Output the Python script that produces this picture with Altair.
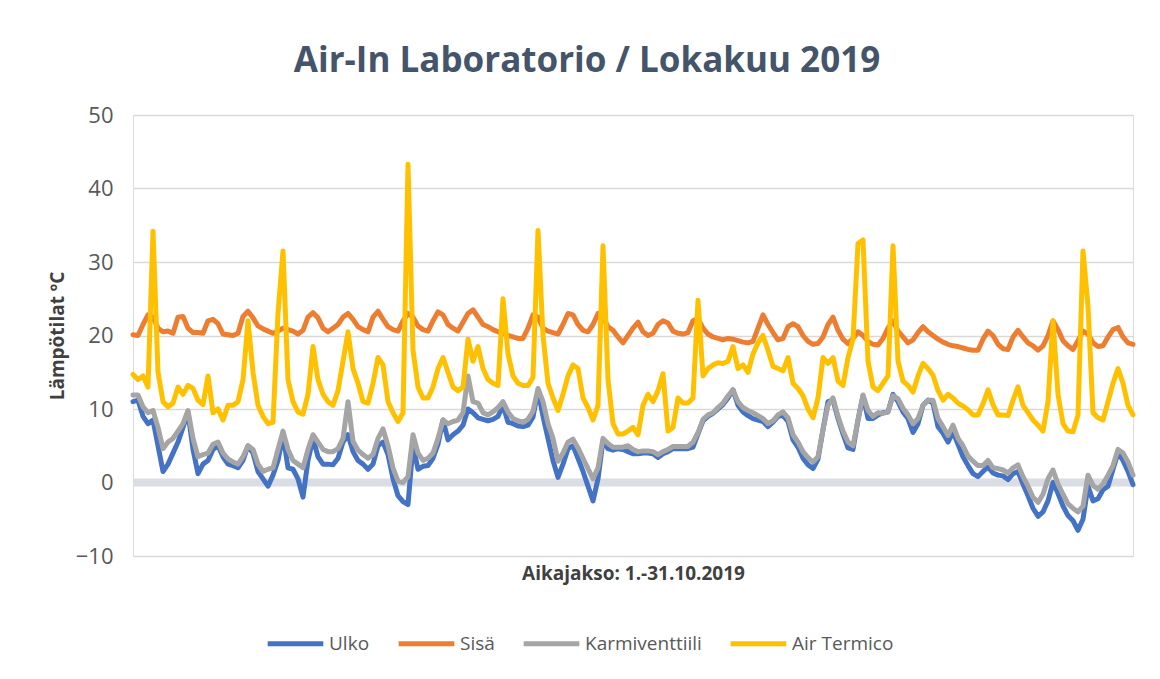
import altair as alt
import pandas as pd

# Series values, sampled every 1/200 of the month (index 0..200 covers 1.-31.10.2019)
ulko = [11.0, 11.2, 9.0, 8.0, 8.5, 5.0, 1.5, 2.5, 4.0, 5.5, 7.5, 9.5, 4.5, 1.2, 2.5, 3.0, 4.5, 5.0, 3.5, 2.5,
        2.3, 2.0, 3.0, 5.0, 4.0, 1.5, 0.5, -0.5, 1.0, 3.0, 6.5, 2.0, 1.8, 0.5, -2.0, 3.0, 6.0, 3.5, 2.5, 2.5,
        2.4, 3.3, 5.5, 6.5, 4.2, 3.0, 2.5, 1.8, 2.5, 5.0, 5.5, 3.8, 0.5, -1.8, -2.6, -3.0, 5.0, 1.8, 2.2, 2.3,
        3.3, 5.2, 8.5, 5.8, 6.5, 7.0, 7.8, 10.0, 9.5, 8.8, 8.6, 8.4, 8.6, 9.0, 10.5, 8.2, 8.0, 7.7, 7.6, 7.8,
        8.9, 12.5, 9.0, 6.0, 3.0, 0.7, 2.5, 4.6, 5.0, 3.3, 1.5, -0.5, -2.5, 0.5, 5.7, 4.6, 4.4, 4.6, 4.5, 4.2,
        3.9, 3.9, 4.0, 4.0, 3.9, 3.4, 3.9, 4.2, 4.6, 4.6, 4.6, 4.6, 4.8, 6.6, 8.4, 9.0, 9.4, 10.0, 10.6, 11.5,
        12.6, 10.5, 9.6, 9.1, 8.7, 8.5, 8.3, 7.6, 8.2, 9.0, 9.1, 8.3, 5.8, 4.8, 3.3, 2.4, 1.9, 3.2, 7.2, 11.0,
        11.2, 8.7, 6.6, 4.7, 4.5, 8.5, 11.8, 8.7, 8.7, 9.2, 9.5, 9.6, 12.0, 11.0, 9.6, 8.7, 6.8, 8.0, 10.5, 11.2,
        10.8, 7.6, 6.7, 5.5, 6.9, 5.2, 3.5, 2.3, 1.2, 0.8, 1.5, 2.1, 1.3, 1.0, 0.9, 0.4, 1.2, 1.5, -0.2, -1.8,
        -3.5, -4.6, -4.0, -2.5, 0.0, -1.5, -3.2, -4.5, -5.2, -6.5, -5.0, -0.5, -2.5, -2.2, -1.0, -0.5, 1.8, 4.0, 3.0, 1.5,
        -0.3]

sisa = [20.1, 20.0, 21.5, 22.8, 22.5, 21.0, 20.5, 20.6, 20.3, 22.5, 22.6, 21.0, 20.4, 20.4, 20.3, 22.0, 22.2, 21.6, 20.2, 20.1,
        20.0, 20.3, 22.6, 23.3, 22.4, 21.3, 20.9, 20.6, 20.3, 20.6, 21.0, 20.8, 20.6, 20.2, 20.7, 22.5, 23.1, 22.4, 21.0, 20.5,
        21.0, 21.5, 22.5, 23.0, 22.2, 21.2, 20.8, 20.5, 22.5, 23.3, 22.2, 21.2, 20.8, 20.6, 22.0, 23.0, 22.5, 21.3, 20.8, 20.6,
        22.0, 23.2, 22.8, 21.5, 21.0, 20.6, 21.8, 23.0, 23.5, 22.5, 21.5, 21.2, 20.8, 20.5, 20.3, 20.0, 19.8, 19.6, 19.6, 21.0,
        22.8, 22.5, 21.0, 20.6, 20.4, 20.2, 21.5, 23.0, 22.8, 21.5, 20.7, 20.5, 21.5, 23.0, 22.5, 21.2, 20.7, 19.8, 19.0, 20.0,
        21.0, 21.8, 20.5, 20.0, 20.3, 21.5, 22.0, 21.7, 20.6, 20.3, 20.2, 20.4, 22.0, 22.3, 21.0, 20.2, 19.8, 19.6, 19.4, 19.6,
        19.5, 19.3, 19.1, 19.0, 19.2, 21.0, 22.8, 21.5, 20.4, 19.4, 19.6, 21.2, 21.6, 21.2, 20.0, 19.2, 18.8, 18.9, 19.8, 21.5,
        22.5, 20.7, 19.5, 18.9, 19.6, 20.5, 20.0, 19.2, 18.8, 18.7, 19.6, 21.0, 22.0, 20.6, 19.8, 19.0, 19.4, 20.4, 21.2, 20.5,
        20.0, 19.5, 19.1, 18.8, 18.6, 18.5, 18.3, 18.1, 18.0, 18.0, 19.5, 20.6, 20.0, 18.8, 18.2, 18.1, 19.8, 20.7, 19.8, 19.0,
        18.6, 18.0, 18.6, 20.0, 22.0, 20.8, 19.3, 18.6, 18.1, 19.3, 20.6, 20.2, 19.0, 18.5, 18.6, 19.8, 20.8, 21.1, 19.8, 19.0,
        18.8]

karmi = [11.9, 11.9, 10.3, 9.5, 9.8, 7.5, 4.6, 5.5, 6.0, 7.0, 8.0, 9.8, 6.0, 3.5, 3.8, 4.0, 5.2, 5.5, 4.0, 3.2,
         2.8, 2.5, 3.5, 5.0, 4.5, 2.5, 1.5, 1.8, 2.0, 4.5, 7.0, 4.5, 3.0, 2.5, 2.0, 4.5, 6.5, 5.5, 4.5, 4.2,
         4.2, 4.6, 6.0, 11.0, 5.6, 4.4, 3.8, 3.3, 3.8, 6.0, 7.3, 5.0, 2.0, 0.2, 0.0, 0.8, 6.5, 4.0, 3.0, 3.3,
         4.0, 6.0, 8.5, 8.0, 8.3, 8.5, 9.5, 14.5, 11.0, 10.8, 9.5, 9.2, 9.6, 10.2, 11.0, 9.6, 8.7, 8.4, 8.2, 8.6,
         9.7, 12.8, 11.0, 8.0, 6.0, 2.9, 4.0, 5.5, 5.9, 4.7, 3.3, 1.9, 0.5, 2.0, 6.0, 5.3, 4.8, 4.8, 4.8, 5.0,
         4.5, 4.2, 4.3, 4.3, 4.2, 3.8, 4.2, 4.5, 4.9, 4.9, 4.9, 4.9, 5.5, 6.8, 8.6, 9.2, 9.5, 10.2, 10.8, 11.8,
         12.6, 11.0, 10.2, 9.8, 9.5, 9.1, 8.7, 8.0, 8.4, 9.2, 9.6, 8.8, 6.5, 5.5, 4.2, 3.4, 2.8, 3.5, 7.2, 10.5,
         11.5, 9.0, 7.0, 5.5, 5.0, 8.5, 11.9, 9.8, 9.0, 9.5, 9.4, 9.6, 11.8, 11.4, 10.1, 9.2, 8.0, 8.7, 10.5, 11.2,
         11.2, 8.7, 7.6, 6.4, 7.8, 6.0, 5.0, 3.6, 2.9, 2.3, 2.3, 3.0, 2.0, 1.9, 1.7, 1.3, 2.0, 2.4, 0.8, -0.5,
         -2.0, -2.7, -1.6, 0.5, 1.7, -0.2, -1.6, -2.9, -3.5, -4.0, -3.2, 1.0, -0.4, -0.9, -0.2, 1.0, 2.3, 4.5, 4.0, 2.8,
         1.0]

air = [14.7, 14.0, 14.5, 13.0, 34.2, 15.0, 11.0, 10.3, 10.8, 13.0, 12.0, 13.2, 12.8, 11.2, 10.6, 14.5, 9.5, 10.0, 8.5, 10.5,
       10.5, 11.0, 14.0, 22.0, 15.0, 10.5, 9.0, 8.0, 8.2, 23.0, 31.5, 14.0, 11.0, 9.6, 9.3, 12.0, 18.5, 14.0, 12.0, 11.0,
       10.5, 12.5, 16.5, 20.5, 15.5, 13.5, 11.0, 10.8, 13.5, 17.0, 16.0, 11.0, 9.5, 8.3, 9.5, 43.3, 18.0, 13.0, 11.5, 11.5,
       13.0, 15.5, 17.0, 15.0, 13.0, 12.5, 13.0, 19.5, 16.5, 18.5, 15.5, 14.0, 13.5, 13.2, 25.0, 17.5, 14.5, 13.5, 13.2, 13.2,
       14.3, 34.3, 20.0, 13.5, 11.5, 9.8, 12.0, 14.5, 16.0, 15.5, 11.5, 10.2, 8.5, 10.5, 32.2, 14.0, 8.0, 6.6, 6.6, 7.0,
       7.5, 6.5, 10.5, 12.0, 11.0, 12.5, 14.8, 7.0, 7.5, 11.5, 10.8, 10.8, 11.5, 24.8, 14.5, 15.5, 16.0, 16.3, 16.2, 16.5,
       18.5, 15.5, 16.0, 15.0, 17.5, 19.0, 20.0, 18.0, 15.8, 15.5, 15.2, 17.0, 13.5, 12.8, 11.8, 10.0, 8.8, 11.5, 17.0, 16.2,
       17.0, 13.8, 13.2, 17.0, 19.5, 32.5, 33.0, 16.5, 13.0, 12.5, 13.5, 14.5, 32.2, 16.5, 13.8, 13.2, 12.3, 14.5, 16.2, 15.5,
       14.6, 12.5, 11.2, 12.0, 11.5, 10.8, 10.4, 9.9, 9.2, 9.2, 10.7, 12.6, 10.6, 9.2, 9.2, 9.1, 11.2, 13.0, 10.5, 9.5,
       8.5, 7.8, 7.0, 11.0, 22.0, 12.0, 8.0, 7.0, 6.9, 9.2, 31.5, 24.0, 9.5, 8.8, 8.5, 11.0, 13.5, 15.5, 13.5, 10.5,
       9.2]

series_names = ["Ulko", "Sisä", "Karmiventtiili", "Air Termico"]
series_colors = ["#4472C4", "#ED7D31", "#A5A5A5", "#FFC000"]
y_ticks = [-10, 0, 10, 20, 30, 40, 50]

FONT = "Open Sans"

rows = []
for name, vals in zip(series_names, [ulko, sisa, karmi, air]):
    n = len(vals)
    for i, v in enumerate(vals):
        rows.append({"t": i * 744.0 / (n - 1), "v": v, "s": name})
df = pd.DataFrame(rows)

x_enc = alt.X("t:Q", scale=alt.Scale(domain=[0, 744], nice=False, zero=False),
              axis=alt.Axis(title="Aikajakso: 1.-31.10.2019", labels=False, ticks=False,
                            domain=False, grid=False, titleFont=FONT, titleFontSize=19,
                            titleFontWeight="bold", titleColor="#404040", titlePadding=8))
y_enc = alt.Y("v:Q", scale=alt.Scale(domain=[-10, 50], nice=False),
              axis=alt.Axis(values=y_ticks, title="Lämpötilat ºC", ticks=False, domain=False,
                            gridColor="#D9D9D9", gridWidth=1.5, labelPadding=20,
                            labelFont=FONT, labelFontSize=22, labelColor="#595959",
                            titleFont=FONT, titleFontSize=19, titleFontWeight="bold",
                            titleColor="#404040", titlePadding=8))
color_enc = alt.Color("s:N", scale=alt.Scale(domain=series_names, range=series_colors),
                      legend=alt.Legend(title=None, orient="none", direction="horizontal",
                                        legendX=132, legendY=498, symbolType="stroke",
                                        symbolSize=3100, symbolStrokeWidth=5,
                                        labelFont=FONT, labelFontSize=19, labelColor="#595959",
                                        columnPadding=18, labelOffset=3))

zero = alt.Chart(pd.DataFrame({"v": [0]})).mark_rule(color="#DADDE4", strokeWidth=8).encode(
    y=alt.Y("v:Q", scale=alt.Scale(domain=[-10, 50], nice=False)))

layers = [zero]
for name in series_names:
    layers.append(
        alt.Chart(df).transform_filter(alt.datum.s == name)
        .mark_line(strokeWidth=5, strokeJoin="round", strokeCap="round")
        .encode(x=x_enc, y=y_enc, color=color_enc)
    )

chart = alt.layer(*layers).properties(
    width=1000, height=441,
    autosize=alt.AutoSizeParams(type="none"),
    padding={"left": 125, "top": 107, "right": 19, "bottom": 115},
    title=alt.TitleParams("Air-In Laboratorio / Lokakuu 2019", font=FONT, fontSize=35,
                          fontWeight="bold", color="#44546A", anchor="middle", dx=-46, offset=25),
).configure_view(stroke=None).configure(background="white")

chart.save("out.html", embed_options={"renderer": "svg", "actions": False})
